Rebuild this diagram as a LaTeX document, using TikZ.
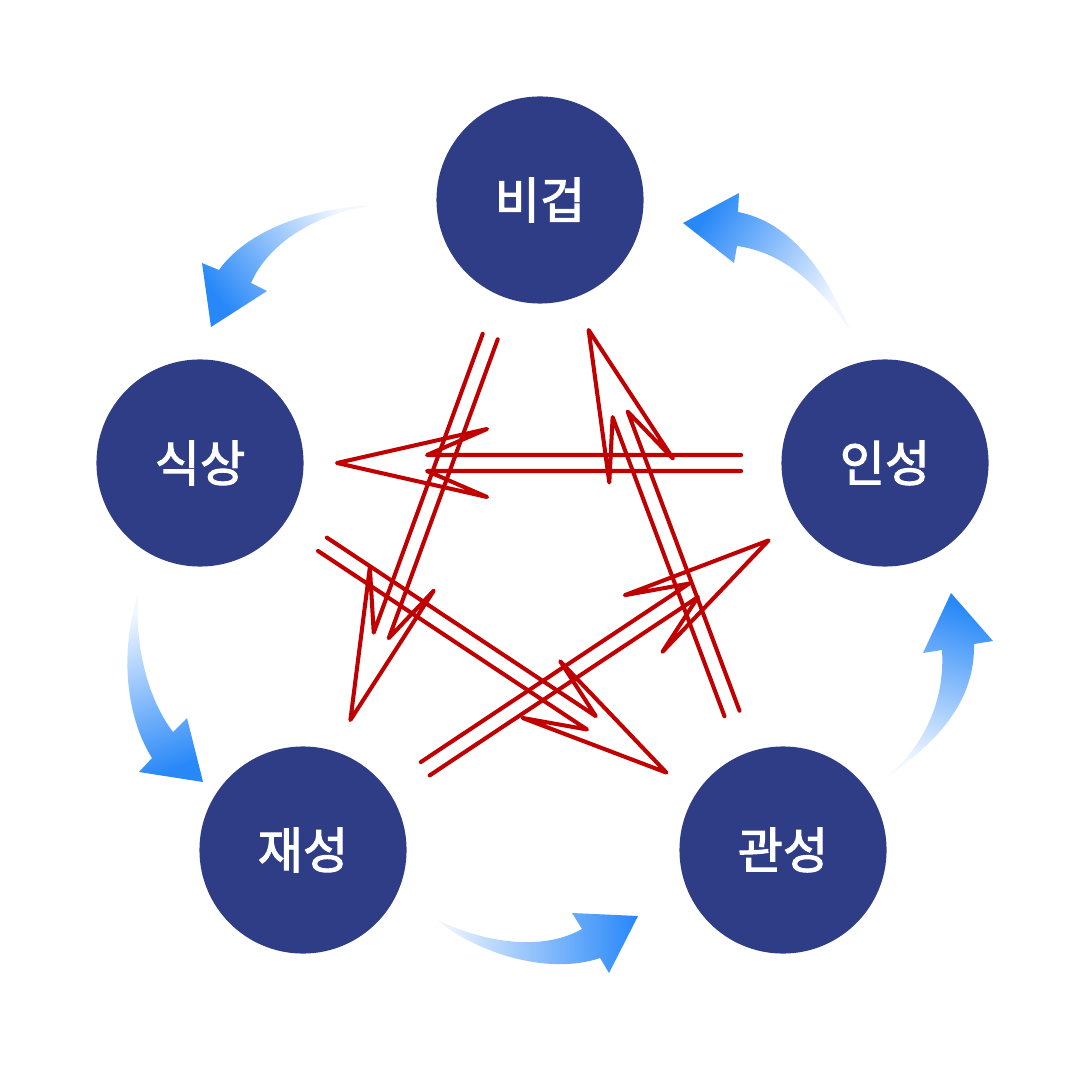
\documentclass[tikz,border=0pt]{standalone}
\usepackage{fontspec}
\usepackage{xcolor}
\usepackage{tikz}
\usetikzlibrary{calc}
\newfontfamily\krfont{Noto Sans CJK KR}[FakeBold=2.2]
\definecolor{ohangBlue}{RGB}{47,61,134}
\definecolor{geukRed}{RGB}{192,0,0}
\definecolor{flowBlue}{RGB}{40,136,248}
\definecolor{flowPale}{RGB}{242,247,255}

\begin{document}
\begin{tikzpicture}[x=0.01cm,y=-0.01cm,
    star/.style={circle,fill=ohangBlue,minimum size=2.07cm,inner sep=0pt,
      text=white,font=\krfont\fontsize{14pt}{16pt}\selectfont},
    geukline/.style={geukRed,line width=1.15pt,line join=round,line cap=round},
    flowarrow/.style={top color=flowBlue,bottom color=flowPale}]
  \useasboundingbox[fill=white] (0,0) rectangle (1080,1080);
  % ---- five elements
  \node[star] (bigeop)    at (540,200) {비겁};
  \node[star] (inseong)   at (885,463) {인성};
  \node[star] (gwanseong) at (783,850) {관성};
  \node[star] (jaeseong)  at (303,850) {재성};
  \node[star] (siksang)   at (200,463) {식상};
  % ---- generating cycle (blue)
  \shade[flowarrow,shading angle=127] (373,205) .. controls (290,210) and (240,240) .. (219,270)
    -- (202,263) -- (211,327) -- (267,291) -- (251,283)
    .. controls (270,240) and (320,213) .. cycle;
  \shade[flowarrow,shading angle=-161] (138,595) .. controls (120,650) and (125,715) .. (152,758)
    -- (139,772) -- (203,782) -- (187,718) -- (173,732)
    .. controls (145,695) and (135,640) .. cycle;
  \shade[flowarrow,shading angle=-89] (437,920) .. controls (480,955) and (550,975) .. (600,958)
    -- (609,973) -- (638,916) -- (572,913) -- (582,929)
    .. controls (545,950) and (490,945) .. cycle;
  \shade[flowarrow,shading angle=-19] (887,777) .. controls (940,740) and (975,700) .. (974,644)
    -- (993,641) -- (951,593) -- (923,653) -- (942,650)
    .. controls (945,700) and (925,745) .. cycle;
  \shade[flowarrow,shading angle=57] (850,330) .. controls (825,270) and (790,222) .. (738,212)
    -- (739,193) -- (683,223) -- (734,263) -- (737,246)
    .. controls (780,252) and (815,280) .. cycle;
  % ---- controlling star (red)
  \foreach \a/\b in {bigeop/jaeseong,inseong/siksang,siksang/gwanseong,
                     jaeseong/inseong,gwanseong/bigeop} {
    \coordinate (s) at ($(\a)!0.21!(\b)$);
    \coordinate (t) at ($(\a)!0.8!(\b)$);
    \coordinate (n) at ($(t)!0.9cm!(s)$);
    \coordinate (w) at ($(t)!1.5cm!(s)$);
    \draw[geukline] ($(s)!0.08cm!90:(t)$) -- ($(n)!0.08cm!-90:(s)$)
      -- ($(w)!0.34cm!-90:(s)$) -- (t) -- ($(w)!0.34cm!90:(s)$)
      -- ($(n)!0.08cm!90:(s)$) -- ($(s)!0.08cm!-90:(t)$);
  }
\end{tikzpicture}
\end{document}
